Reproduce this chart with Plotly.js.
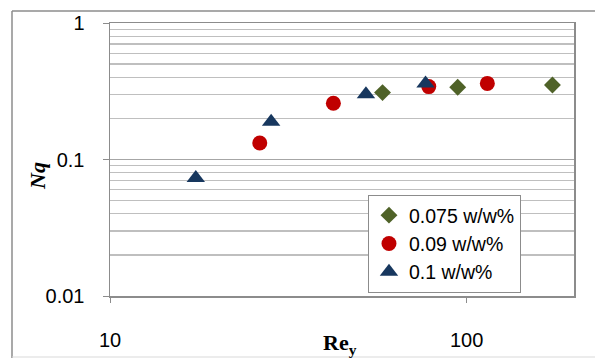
<!DOCTYPE html>
<html>
<head>
<meta charset="utf-8">
<script src="https://cdn.plot.ly/plotly-3.0.1.min.js"></script>
<style>html,body{margin:0;padding:0;background:#fff;}#chart{width:595px;height:358px;}</style>
</head>
<body>
<div id="chart"></div>
<script>
// Data
const seriesNames = ["0.075 w/w%", "0.09 w/w%", "0.1 w/w%"];
const re075 = [58.1, 94.4, 174];
const nq075 = [0.309, 0.338, 0.351];
const re09 = [26.3, 42.3, 78.3, 114.3];
const nq09 = [0.132, 0.258, 0.342, 0.361];
const re01 = [17.4, 28.3, 52.2, 76.7];
const nq01 = [0.0732, 0.189, 0.300, 0.361];

const yTickVals = [0.01, 0.1, 1];
const yTickText = ["0.01", "0.1", "1"];
const yMinorVals = [0.02,0.03,0.04,0.05,0.06,0.07,0.08,0.09,0.2,0.3,0.4,0.5,0.6,0.7,0.8,0.9];
const xTickVals = [10, 100];
const xTickText = ["10", "100"];

const font = {family: "Liberation Sans, Arial, sans-serif", size: 20, color: "#000"};

const traces = [
  {x: re075, y: nq075, name: seriesNames[0], mode: "markers", type: "scatter",
   marker: {symbol: "diamond", size: 13, color: "#4F6228"}},
  {x: re09, y: nq09, name: seriesNames[1], mode: "markers", type: "scatter",
   marker: {symbol: "circle", size: 15, color: "#C00000"}},
  {x: re01, y: nq01, name: seriesNames[2], mode: "markers", type: "scatter",
   marker: {symbol: "triangle-up", size: 16, color: "#17375E"}}
];

const layout = {
  width: 595, height: 358,
  margin: {l: 110, r: 21, t: 23, b: 62},
  paper_bgcolor: "#fff", plot_bgcolor: "#fff",
  font: font,
  showlegend: true,
  legend: {x: 0.556, y: 0.37, xanchor: "left", yanchor: "top",
           bgcolor: "#fff", bordercolor: "#8c8c8c", borderwidth: 1,
           font: {family: font.family, size: 19.5, color: "#000"}, tracegroupgap: 0, itemwidth: 30},
  xaxis: {type: "log", range: [1, Math.log10(200)],
          tickmode: "array", tickvals: xTickVals, ticktext: xTickText,
          ticks: "outside", ticklen: 5, tickcolor: "#8c8c8c",
          ticklabelstandoff: 20,
          showgrid: false, zeroline: false,
          showline: true, linecolor: "#8c8c8c", linewidth: 1.5, mirror: true,
          tickfont: font},
  yaxis: {type: "log", range: [-2, 0],
          tickmode: "array", tickvals: yTickVals, ticktext: yTickText,
          ticks: "outside", ticklen: 6, tickcolor: "#8c8c8c",
          ticklabelstandoff: 14,
          showgrid: true, gridcolor: "#a6a6a6", gridwidth: 1.3,
          minor: {tickmode: "array", tickvals: yMinorVals, showgrid: true, gridcolor: "#bfbfbf", gridwidth: 1.3, ticks: ""},
          zeroline: false,
          showline: true, linecolor: "#8c8c8c", linewidth: 1.5, mirror: true,
          tickfont: font},
  annotations: [
    {text: "<b><i>Nq</i></b>", xref: "paper", yref: "paper", x: (37-110)/464, y: (296-176)/273,
     showarrow: false, textangle: -90, xanchor: "center", yanchor: "middle",
     font: {family: "Liberation Serif, Times New Roman, serif", size: 22, color: "#000"}},
    {text: "<b>Re<sub>y</sub></b>", xref: "paper", yref: "paper", x: (340-110)/464, y: (296-344)/273,
     showarrow: false, xanchor: "center", yanchor: "middle",
     font: {family: "Liberation Serif, Times New Roman, serif", size: 22, color: "#000"}}
  ],
  shapes: [
    {type: "line", xref: "paper", yref: "paper", x0: (12-110)/464, x1: (600-110)/464, y0: (296-11)/273, y1: (296-11)/273,
     line: {color: "#8c8c8c", width: 1.5}},
    {type: "line", xref: "paper", yref: "paper", x0: (12-110)/464, x1: (12-110)/464, y0: (296-11)/273, y1: (296-360)/273,
     line: {color: "#8c8c8c", width: 1.5}},
    {type: "line", xref: "paper", yref: "paper", x0: (12-110)/464, x1: (600-110)/464, y0: (296-357)/273, y1: (296-357)/273,
     line: {color: "#d9d9d9", width: 1}}
  ]
};

Plotly.newPlot("chart", traces, layout, {displayModeBar: false, staticPlot: true});
</script>
</body>
</html>
